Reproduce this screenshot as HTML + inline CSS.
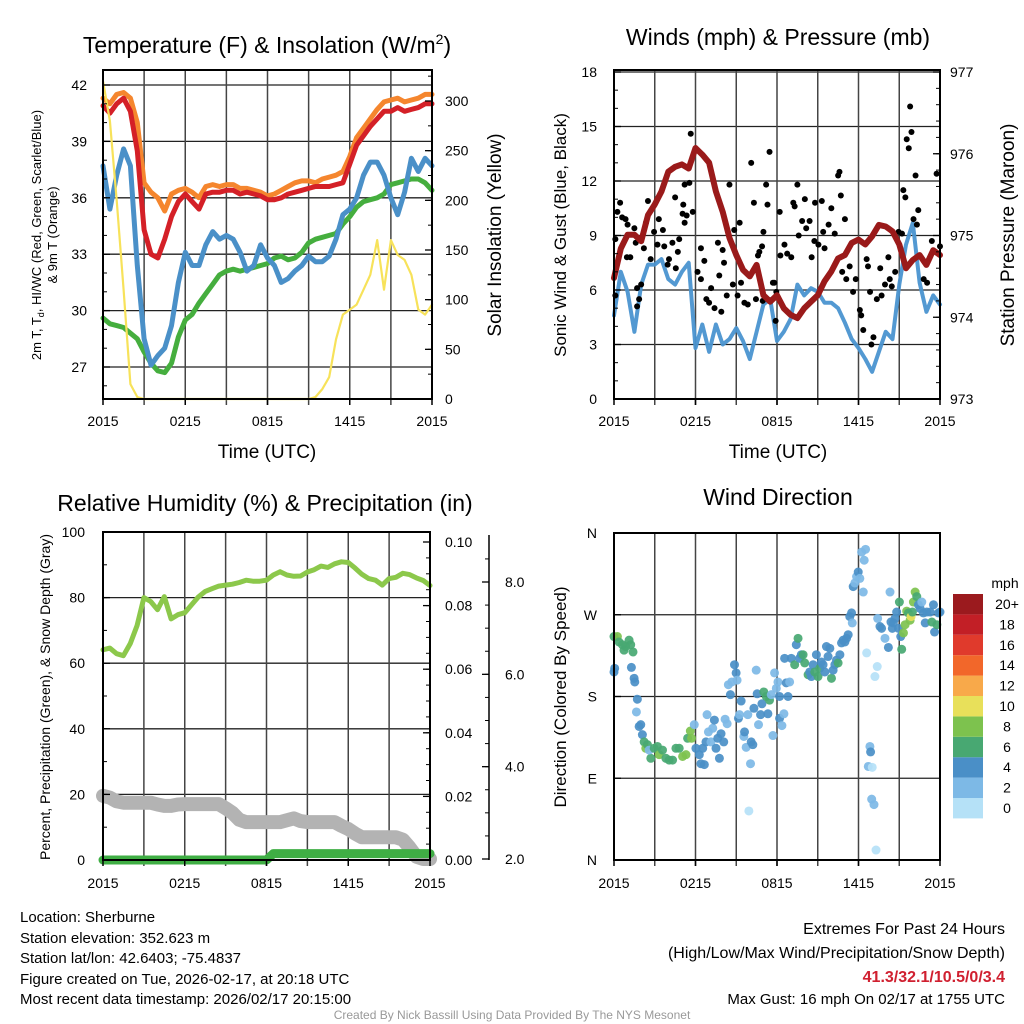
<!DOCTYPE html>
<html><head><meta charset="utf-8"><style>
html,body{margin:0;padding:0;background:#fff}
svg{display:block;font-family:"Liberation Sans",sans-serif}
</style></head><body>
<svg id="chart" width="1024" height="1024" viewBox="0 0 1024 1024" xmlns="http://www.w3.org/2000/svg">
<rect width="1024" height="1024" fill="#fff"/>
<g id="g1"></g>
<g id="g2"></g>
<g id="g3"></g>
<g id="g4"></g>
<text x="267" y="53" font-size="23" text-anchor="middle">Temperature (F) &amp; Insolation (W/m<tspan font-size="14" dy="-9">2</tspan><tspan dy="9">)</tspan></text>
<text x="778" y="45" font-size="23" text-anchor="middle">Winds (mph) &amp; Pressure (mb)</text>
<text x="265" y="511" font-size="23" text-anchor="middle">Relative Humidity (%) &amp; Precipitation (in)</text>
<text x="778" y="505" font-size="23" text-anchor="middle">Wind Direction</text>
<text x="267" y="458" font-size="19" text-anchor="middle">Time (UTC)</text>
<text x="778" y="458" font-size="19" text-anchor="middle">Time (UTC)</text>
<g font-size="13" text-anchor="middle">
<text transform="translate(41,235) rotate(-90)">2m T, T<tspan font-size="9" dy="3">d</tspan><tspan dy="-3">, HI/WC (Red, Green, Scarlet/Blue)</tspan></text>
<text transform="translate(57,235) rotate(-90)">&amp; 9m T (Orange)</text>
</g>
<text transform="translate(501,235) rotate(-90)" font-size="19" text-anchor="middle">Solar Insolation (Yellow)</text>
<text transform="translate(566,235) rotate(-90)" font-size="17" text-anchor="middle">Sonic Wind &amp; Gust (Blue, Black)</text>
<text transform="translate(1014,235) rotate(-90)" font-size="19" text-anchor="middle">Station Pressure (Maroon)</text>
<text transform="translate(50,697) rotate(-90)" font-size="14" text-anchor="middle">Percent, Precipitation (Green), &amp; Snow Depth (Gray)</text>
<text transform="translate(566,697) rotate(-90)" font-size="17" text-anchor="middle">Direction (Colored By Speed)</text>
<g font-size="15">
<text x="20" y="922">Location: Sherburne</text>
<text x="20" y="943">Station elevation: 352.623 m</text>
<text x="20" y="963">Station lat/lon: 42.6403; -75.4837</text>
<text x="20" y="984">Figure created on Tue, 2026-02-17, at 20:18 UTC</text>
<text x="20" y="1004">Most recent data timestamp: 2026/02/17 20:15:00</text>
</g>
<g font-size="16" text-anchor="end">
<text x="1005" y="934">Extremes For Past 24 Hours</text>
<text x="1005" y="958">(High/Low/Max Wind/Precipitation/Snow Depth)</text>
<text x="1005" y="982" fill="#d02030" font-weight="bold">41.3/32.1/10.5/0/3.4</text>
<text x="1005" y="1004" font-size="15">Max Gust: 16 mph On 02/17 at 1755 UTC</text>
</g>
<text x="512" y="1019" font-size="12" fill="#999" text-anchor="middle">Created By Nick Bassill Using Data Provided By The NYS Mesonet</text>
</svg>
<script>
const hours = [0,0.5,1,1.5,2,2.5,3,3.5,4,4.5,5,5.5,6,6.5,7,7.5,8,8.5,9,9.5,10,10.5,11,11.5,12,12.5,13,13.5,14,14.5,15,15.5,16,16.5,17,17.5,18,18.5,19,19.5,20,20.5,21,21.5,22,22.5,23,23.5,24];
const tempRed = [40.9,40.5,41.0,41.3,40.6,38.5,34.3,33.0,32.8,33.8,35.0,35.8,36.2,35.8,35.4,36.2,36.3,36.3,36.4,36.4,36.2,36.3,36.2,36.1,35.9,35.9,36.0,36.2,36.3,36.4,36.5,36.6,36.6,36.6,36.7,36.8,37.8,38.8,39.3,39.8,40.2,40.6,40.6,40.8,40.6,40.7,40.8,41.0,41.0];
const temp9m = [41.3,41.0,41.5,41.6,41.3,40.0,36.8,36.3,36.0,35.3,36.2,36.4,36.5,36.3,36.0,36.6,36.7,36.6,36.7,36.7,36.5,36.5,36.4,36.3,36.1,36.2,36.4,36.6,36.8,36.9,36.9,36.8,37.0,37.1,37.2,37.4,38.2,39.2,39.7,40.2,40.7,41.1,41.2,41.3,41.1,41.2,41.3,41.5,41.5];
const tempBlue = [37.7,35.4,37.2,38.6,37.7,32.4,28.5,27.1,27.6,28.0,29.2,31.5,33.1,32.4,32.4,33.5,34.2,33.8,34.0,33.8,33.1,32.1,32.4,33.5,32.8,32.4,31.5,31.7,32.1,32.4,32.9,32.6,32.6,32.9,33.8,35.1,35.4,36.0,37.2,37.9,37.9,37.2,36.0,35.1,36.3,38.1,37.4,38.1,37.7];
const tempGreen = [29.6,29.3,29.2,29.1,28.8,28.5,27.8,27.2,26.8,26.7,27.2,28.6,29.5,29.8,30.4,30.9,31.4,31.9,32.1,32.2,32.1,32.2,32.3,32.4,32.5,32.8,32.9,32.7,32.8,33.1,33.6,33.8,33.9,34.0,34.1,34.6,35.0,35.5,35.8,35.9,36.0,36.2,36.7,36.8,36.9,37.0,37.0,36.8,36.4];
const solar = [320,280,200,110,15,2,0,0,0,0,0,0,0,0,0,0,0,0,0,0,0,0,0,0,0,0,0,0,0,0,0,2,10,22,60,85,90,95,110,125,160,110,160,145,140,125,90,85,95];
const windSpeed = [4.6,7.0,5.9,3.7,6.3,7.4,7.4,7.7,6.6,6.3,7.0,7.5,2.8,4.1,2.6,4.1,3.0,3.3,3.9,3.2,2.2,3.7,5.2,5.5,3.2,3.7,4.4,6.3,5.7,6.1,5.9,5.3,5.3,5.0,4.2,3.3,2.8,2.2,1.5,2.6,3.7,3.3,6.3,8.5,9.7,6.4,4.8,5.7,5.2];
const pressure = [974.48,974.84,975.01,975.01,974.93,975.25,975.38,975.54,975.78,975.84,975.87,975.82,976.07,975.99,975.89,975.54,975.29,974.97,974.76,974.58,974.50,974.64,974.27,974.19,974.27,974.11,974.03,973.99,974.11,974.19,974.27,974.44,974.56,974.72,974.76,974.91,974.95,974.89,974.99,975.13,975.11,975.05,974.89,974.60,974.70,974.76,974.64,974.82,974.76];
const gustTime = [0.1,0.25,0.45,0.6,0.85,1,0.95,1.2,1.5,1.6,1.7,1.85,2,2.2,2.35,2.5,2.7,2.95,3.2,3.3,3.6,3.7,3.95,4.05,4.3,4.5,4.7,4.8,5.05,5.1,5.2,5.35,5.2,5.55,5.65,5.8,6.15,6.4,6.65,6.8,7,7.15,7.4,7.65,7.75,8,8.1,8.3,8.5,8.75,8.85,9.1,9.35,9.25,9.6,9.85,10.1,10.3,10.45,10.6,10.7,10.9,11,11.2,11.3,11.45,11.7,11.95,11.9,12.2,12.25,12.55,12.75,13.05,13.2,13.3,13.5,13.6,13.85,14.05,14.15,14.4,14.55,14.75,14.8,15.05,15.3,15.4,15.5,15.8,16,16.25,16.5,16.6,16.7,16.8,17,17.1,17.35,17.6,17.8,18.1,18.2,18.35,18.6,18.7,18.85,18.95,19.1,19.35,19.6,19.7,19.95,20.2,20.3,20.45,20.7,20.95,21.2,21.3,21.45,21.55,21.7,21.8,21.9,22.05,22.2,22.3,22.4,22.8,23.05,23.4,23.75,24,0.1,1.7,4.55,6.4,7.9,10.95,11.8];
const gustSpeed = [8.8,10.3,10.8,10.0,9.9,9.6,7.8,7.8,9.4,8.6,6.1,5.5,6.3,8.3,9.7,10.9,7.7,9.2,8.5,9.9,9.3,8.4,7.4,7.7,8.6,11.1,8.1,8.8,10.2,10.7,9.7,10.1,11.8,11.9,14.6,10.3,7.0,6.6,7.6,5.5,5.3,6.1,5.0,8.6,6.8,8.2,7.5,5.7,11.8,6.3,9.3,5.7,6.4,9.7,5.3,5.2,13.0,10.8,5.5,7.9,8.1,8.4,9.2,11.8,10.7,13.6,6.4,5.9,4.3,10.3,7.9,8.5,8.0,7.8,10.8,10.6,11.8,9.0,9.8,11.0,9.4,9.8,7.8,8.7,10.8,8.5,10.9,9.2,8.3,9.6,10.5,9.1,12.3,12.5,11.2,7.0,9.9,6.6,7.3,5.9,6.6,4.9,4.6,3.8,7.7,7.3,5.9,3.0,3.4,5.5,7.2,5.7,6.3,7.8,6.6,6.2,7.0,9.2,9.1,11.5,11.1,14.3,13.8,16.1,14.7,9.9,12.3,9.6,10.4,6.6,6.4,8.7,12.4,8.4,5.7,5.1,7.2,8.3,4.8,5.4,6.4];
const humidity = [64.1,64.6,62.9,62.3,66.0,71.5,80.0,78.8,76.3,80.3,73.5,74.8,75.4,77.8,80.2,81.9,82.7,83.5,83.8,84.1,84.6,85.3,85.0,85.0,85.3,86.9,87.9,86.9,86.5,86.6,87.8,88.5,89.6,89.2,90.3,90.9,90.7,89.0,87.1,85.8,85.3,83.8,85.8,86.2,87.4,87.0,86.0,85.2,83.7];
const snowDepth = [3.37,3.33,3.25,3.22,3.22,3.22,3.22,3.22,3.18,3.15,3.15,3.18,3.19,3.19,3.19,3.19,3.19,3.19,3.10,3.00,2.85,2.80,2.80,2.80,2.80,2.80,2.80,2.84,2.88,2.82,2.80,2.80,2.80,2.80,2.80,2.72,2.65,2.55,2.47,2.47,2.47,2.47,2.47,2.47,2.42,2.25,2.05,2.0,2.0];
const precip = [0,0,0,0,0,0,0,0,0,0,0,0,0,0,0,0,0,0,0,0,0,0,0,0,0,0.002,0.002,0.002,0.002,0.002,0.002,0.002,0.002,0.002,0.002,0.002,0.002,0.002,0.002,0.002,0.002,0.002,0.002,0.002,0.002,0.002,0.002,0.002,0.002];
const dirTime = [0,0.25,0.37,0.62,0.86,1.11,1.23,0.74,1.4,0,0.05,1.28,1.48,1.53,1.72,1.65,1.85,1.97,2.09,2.22,2.34,2.46,2.71,2.59,2.96,3.2,3.33,3.57,3.82,4.06,4.31,4.56,4.8,5.05,5.3,5.42,5.62,5.71,5.91,6.03,6.28,6.4,6.53,6.65,6.77,6.85,6.95,7.14,7.27,7.39,7.51,7.64,7.76,7.88,8.08,8.18,8.33,8.42,8.57,8.67,8.87,8.99,9.06,9.16,9.24,9.36,9.56,9.61,9.73,9.85,10.05,10.1,10.22,9.93,10.3,10.47,10.54,10.64,10.79,10.89,11.03,11.21,11.33,11.45,11.58,11.7,11.82,11.95,12.07,12.19,12.19,12.36,12.51,12.56,12.68,12.81,12.93,13.05,13.3,13.42,13.55,13.67,13.79,13.92,14.04,14.29,14.41,14.53,14.66,14.78,14.9,15.02,15.15,15.27,15.39,15.52,15.64,15.76,15.89,16.01,16.13,16.26,16.38,16.5,16.63,16.75,16.87,17.0,17.12,17.24,17.36,17.49,17.54,17.61,17.73,17.86,17.98,18.1,18.23,18.35,18.42,18.52,18.6,18.84,18.89,18.72,19.01,18.97,19.14,19.38,19.21,19.29,19.41,19.58,19.7,19.95,20.2,20.32,20.39,20.49,20.57,20.69,20.81,20.94,21.01,21.11,21.18,21.31,21.43,21.55,21.67,21.8,21.87,21.97,22.04,22.17,22.29,22.41,22.54,22.66,22.78,22.91,23.03,23.28,23.4,23.52,23.6,23.77,23.89,24.0];
const dirDeg = [246,246,240,237,235,242,237,231,229,207,211,212,200,196,177,163,147,149,138,130,123,127,112,121,123,125,116,121,112,110,110,123,123,114,116,134,142,134,149,123,116,106,123,105,130,160,141,130,145,154,123,134,112,139,130,155,150,193,182,196,215,206,198,156,160,175,136,141,124,160,106,130,127,54,167,209,183,149,160,172,185,180,161,176,182,137,206,189,196,180,156,148,161,222,195,180,196,222,215,237,244,222,226,226,217,204,207,202,215,207,226,202,211,218,215,207,235,224,233,200,209,215,220,217,226,239,242,240,244,248,268,272,261,301,305,312,317,310,339,295,330,342,228,125,119,103,102,67,61,213,202,11,266,257,255,244,234,295,262,255,261,266,273,255,284,246,232,250,259,274,272,264,268,273,284,295,290,281,277,284,272,261,273,273,262,281,251,259,272,273];
const dirSpeed = [7,9,7,7,7,7,7,7,7,5,5,5,5,5,5,3,5,5,5,7,9,7,7,3,7,7,9,7,7,7,7,7,7,9,9,7,9,9,3,5,5,5,5,5,5,3,3,3,3,5,5,5,5,5,5,3,3,3,5,3,5,5,3,5,3,5,3,5,3,3,3,5,5,1,5,3,5,3,5,5,7,7,5,7,3,3,3,3,3,5,5,3,3,5,5,5,3,5,7,5,7,5,5,7,7,7,5,5,5,7,5,7,7,5,5,5,5,5,5,7,5,5,5,7,5,5,5,5,5,5,5,5,3,5,3,3,5,3,3,3,3,3,1,3,5,3,1,3,3,1,1,1,3,5,5,3,5,3,5,5,5,5,5,5,7,5,7,9,9,9,7,9,11,7,9,9,7,5,5,3,5,5,5,5,7,5,5,7,5,5];
const timeTicks = [0,6,12,18,24];
const timeTickLabels = ["2015","0215","0815","1415","2015"];
const tempTicks = [27,30,33,36,39,42];
const solarTicks = [0,50,100,150,200,250,300];
const windTicks = [0,3,6,9,12,15,18];
const pressTicks = [973,974,975,976,977];
const rhTicks = [0,20,40,60,80,100];
const precipTicks = [0,0.02,0.04,0.06,0.08,0.10];
const snowTicks = [2,4,6,8];
const dirTicks = [0,90,180,270,360];
const dirTickLabels = ["N","E","S","W","N"];
const speedBins = ["0","2","4","6","8","10","12","14","16","18","20+"];
const speedColors = ["#b5e1f7","#7db9e6","#4a8fc7","#48a872","#7dc24e","#e8e05a","#f8a94a","#f2672a","#e03a2c","#c21f26","#9b1a1e"];

const NS="http://www.w3.org/2000/svg";
function mk(parent, tag, attrs){const e=document.createElementNS(NS,tag);for(const k in attrs)e.setAttribute(k,attrs[k]);parent.appendChild(e);return e;}
function lin(d0,d1,r0,r1){return v=>r0+(v-d0)/(d1-d0)*(r1-r0);}
function pathD(xs,ys,fx,fy){return xs.map((x,i)=>(i?'L':'M')+fx(x).toFixed(1)+','+fy(ys[i]).toFixed(1)).join('');}

function frame(g,L,R,T,B,fx,fy,hTicks){
  hTicks.forEach(v=>{const l=mk(g,'line',{x1:L,x2:R,y1:fy(v),y2:fy(v),stroke:'#222','stroke-width':1.3});
    
    });
  for(let h=3;h<24;h+=3){const l=mk(g,'line',{x1:fx(h),x2:fx(h),y1:T,y2:B+6,stroke:'#444','stroke-width':1.5});
    
    }
}
function border(g,L,R,T,B){const r=mk(g,'rect',{x:L,y:T,width:R-L,height:B-T,fill:'none',stroke:'#000','stroke-width':2});
  
  }
function xLabels(g,fx,y,B){timeTicks.forEach((t,i)=>{mk(g,'line',{x1:fx(t),x2:fx(t),y1:B,y2:B+6,stroke:'#000','stroke-width':1.5});
  const tx=mk(g,'text',{x:fx(t),y:y,'font-size':14,'text-anchor':'middle'});tx.textContent=timeTickLabels[i];
  
  });}
function yLabels(g,ticks,fy,x,anchor,fmt,tickX,dir){ticks.forEach(v=>{
  mk(g,'line',{x1:tickX,x2:tickX+dir*7,y1:fy(v),y2:fy(v),stroke:'#000','stroke-width':1.3});
  const tx=mk(g,'text',{x:x,y:fy(v)+5,'font-size':14,'text-anchor':anchor});tx.textContent=fmt(v);
  
  });}
function minor(g,d0,d1,step,fy,x,dir){for(let v=d0;v<=d1+1e-9;v+=step){mk(g,'line',{x1:x,x2:x+dir*4,y1:fy(v),y2:fy(v),stroke:'#000','stroke-width':1});}}
function series(g,xs,ys,fx,fy,color,w,name,op){const p=mk(g,'path',{d:pathD(xs,ys,fx,fy),fill:'none',stroke:color,'stroke-width':w,'stroke-linejoin':'round','stroke-linecap':'round',opacity:op||1});
  
  return p;}

// Panel 1
(function(){const g=document.getElementById('g1');const L=103,R=432,T=70,B=399;
 const fx=lin(0,24,L,R),fy=lin(27,42,367,85),fs=lin(0,300,399,101);
 frame(g,L,R,T,B,fx,fy,tempTicks);
 series(g,hours,tempGreen,fx,fy,'#45ae3e',5,'temp-green-line');
 series(g,hours,tempBlue,fx,fy,'#4a90c8',5,'temp-blue-line');
 series(g,hours,temp9m,fx,fy,'#f5862e',5,'temp-9m-orange-line');
 series(g,hours,tempRed,fx,fy,'#d42027',5,'temp-2m-red-line');
 series(g,hours,solar,fx,fs,'#f7e25a',2.2,'solar-insolation-line');
 border(g,L,R,T,B);
 minor(g,26,42,1,fy,L,1);minor(g,0,325,25,fs,R,-1);
 yLabels(g,tempTicks,fy,87,'end',v=>v,L,1);
 yLabels(g,solarTicks,fs,445,'start',v=>v,R,-1);
 xLabels(g,fx,426,B);})();
// Panel 2
(function(){const g=document.getElementById('g2');const L=614,R=940,T=70,B=399;
 const fx=lin(0,24,L,R),fy=lin(0,18,B,72),fp=lin(973,977,B,72);
 frame(g,L,R,T,B,fx,fy,windTicks);
 series(g,hours,windSpeed,fx,fy,'#4a93d0',4,'sonic-wind-line',0.95);
 gustTime.forEach((t,i)=>{const c=mk(g,'circle',{cx:fx(t),cy:fy(gustSpeed[i]),r:3,fill:'#000'});
  
  });
 series(g,hours,pressure,fx,fp,'#9a1a1a',6,'pressure-line');
 border(g,L,R,T,B);
 minor(g,0,18,1,fy,L,1);minor(g,973,977,0.2,fp,R,-1);
 yLabels(g,windTicks,fy,597,'end',v=>v,L,1);
 yLabels(g,pressTicks,fp,950,'start',v=>v,R,-1);
 xLabels(g,fx,426,B);})();
// Panel 3
(function(){const g=document.getElementById('g3');const L=103,R=430,T=532,B=860;
 const fx=lin(0,24,L,R),fy=lin(0,100,B,532),fp=lin(0,0.1,B,542),fsn=lin(2,8,859,582);
 frame(g,L,R,T,B,fx,fy,rhTicks.slice(1,5));
 series(g,hours,snowDepth,fx,fsn,'#b3b3b3',14,'snow-depth-line');
 series(g,hours,precip,fx,fp,'#3fae44',9,'precipitation-line');
 series(g,hours,humidity,fx,fy,'#8cc84b',5,'relative-humidity-line');
 border(g,L,R,T,B);
 minor(g,0,100,10,fy,L,1);minor(g,0,0.1,0.005,fp,R,-1);
 yLabels(g,rhTicks,fy,85,'end',v=>v,L,1);
 yLabels(g,precipTicks,fp,445,'start',v=>v.toFixed(2),R,-1);
 const ax=mk(g,'line',{x1:489,x2:489,y1:535,y2:860,stroke:'#000','stroke-width':1.5});
 
 
 minor(g,2,8.5,0.5,fsn,489,-1);
 yLabels(g,snowTicks,fsn,505,'start',v=>v.toFixed(1),489,-1);
 xLabels(g,fx,888,B);})();
// Panel 4
(function(){const g=document.getElementById('g4');const L=614,R=940,T=533,B=860;
 const fx=lin(0,24,L,R),fy=lin(0,360,B,T);
 frame(g,L,R,T,B,fx,fy,dirTicks.slice(1,4));
 dirTime.forEach((t,i)=>{const s=dirSpeed[i];const c=mk(g,'circle',{cx:fx(Math.min(t,24)),cy:fy(dirDeg[i]),r:4.5,fill:speedColors[Math.min(10,Math.floor(s/2))],opacity:0.92});
  
  });
 border(g,L,R,T,B);
 yLabels(g,dirTicks,fy,597,'end',v=>dirTickLabels[dirTicks.indexOf(v)],L,1);
 xLabels(g,fx,888,B);
 const cb=mk(g,'g',{});
 const t=mk(cb,'text',{x:1005,y:588,'font-size':14,'text-anchor':'middle'});t.textContent='mph';
 speedBins.forEach((lab,i)=>{const y=798-i*20.4;
  const r=mk(cb,'rect',{x:953,y:y,width:30,height:20.4,fill:speedColors[i]});
  
  
  const tx=mk(cb,'text',{x:1007,y:y+15,'font-size':14,'text-anchor':'middle'});tx.textContent=lab;
  
  });})();
</script>
</body></html>
